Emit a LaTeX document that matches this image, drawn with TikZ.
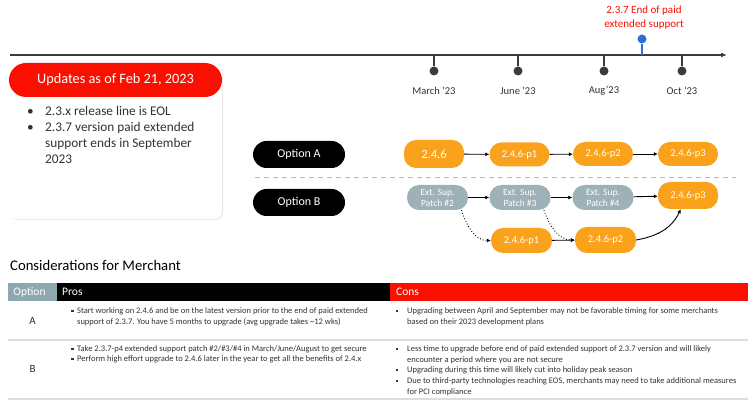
\documentclass[tikz,border=0pt]{standalone}
\usepackage{fontspec}
\setmainfont{Carlito}
\usetikzlibrary{arrows.meta,shadows}
\definecolor{adred}{HTML}{FA0F00}
\definecolor{orng}{HTML}{FAA21B}
\definecolor{gnode}{HTML}{9FB1B8}
\definecolor{ghdr}{HTML}{8EA8B2}
\definecolor{tline}{HTML}{3C3C3C}
\definecolor{blu}{HTML}{2B6FDB}
\definecolor{sepc}{HTML}{DDDDDD}
\definecolor{txt}{HTML}{333333}
\tikzset{
  tdot/.style={circle,fill=tline,inner sep=0,minimum size=9},
  bdot/.style={circle,fill=blu,inner sep=0,minimum size=9},
  tlabel/.style={text=txt,font=\fontsize{10.5}{12}\selectfont,inner sep=0},
  optbox/.style={fill=black,text=white,rounded corners=13.5,minimum width=92,minimum height=27,inner sep=0,font=\fontsize{12}{14}\selectfont},
  onode/.style={fill=orng,text=white,rounded corners=12,minimum width=60,minimum height=24,inner sep=0,font=\fontsize{10.5}{12}\selectfont},
  gbox/.style={fill=gnode,text=white,rounded corners=12,minimum width=61,minimum height=25,inner sep=0,align=center,font=\fontsize{9.5}{11}\selectfont},
  arr/.style={-{Latex[length=4,width=4]},line width=0.9,black},
  darr/.style={-{Latex[length=4,width=4]},line width=0.9,black,dotted},
  rtext/.style={text=txt,font=\fontsize{8.5}{10.5}\selectfont,inner sep=0,align=left,anchor=base west},
  sqb/.style={fill=txt,inner sep=0,minimum size=2.2},
  hdr/.style={text=white,font=\fontsize{11.5}{13}\selectfont,inner sep=0},
  cardb/.style={text=txt,font=\fontsize{13.3}{16}\selectfont,inner sep=0,align=left,anchor=base west}
}
\begin{document}
\begin{tikzpicture}[x=1pt,y=-1pt]
\useasboundingbox (0,0) rectangle (750,403);
\fill[white] (0,0) rectangle (750,403);

% timeline
\coordinate (tl0) at (10,55);
\coordinate (tl1) at (727,55);
\draw[tline,line width=1.5,-{Latex[length=6,width=5]}] (tl0) -- (tl1);
\foreach \x/\n/\t in {434/m/March '23,518/j/June '23,604/a/Aug'23,682/o/Oct '23}{
  \coordinate (\n0) at (\x,55);
  \node[tdot] (\n1) at (\x,71) {};
  \draw[tline,line width=1.5] (\n0) -- (\n1);
  \node[tlabel] (\n2) at (\x,91) {\t};
}
\coordinate (bp) at (642,55);
\node[bdot] (bd) at (642,39) {};
\draw[blu,line width=1.5] (bp) -- (bd);
\node[text=adred,align=center,font=\fontsize{11}{14}\selectfont,inner sep=0] (eol) at (644,18) {2.3.7 End of paid\\extended support};

% card
\node[fill=white,rounded corners=8,minimum width=213,minimum height=156,inner sep=0,
  drop shadow={opacity=0.18,shadow xshift=1pt,shadow yshift=-1pt}] (card) at (115.5,141) {};
\node[fill=adred,rounded corners=17,minimum width=213,minimum height=34,inner sep=0,text=white,
  font=\fontsize{14.3}{17}\selectfont] (upd) at (115.5,80) {Updates as of Feb 21, 2023};
\node[cardb] (b1d) at (27,116) {•};
\node[cardb] (b1) at (45,116) {2.3.x release line is EOL};
\node[cardb] (b2d) at (27,132) {•};
\node[cardb] (b2) at (45,164) {2.3.7 version paid extended\\support ends in September\\2023};

% options
\node[optbox] (oa) at (299,154.5) {Option A};
\node[optbox] (ob) at (299,202.5) {Option B};
\coordinate (ds0) at (255,178);
\coordinate (ds1) at (736,178);
\draw[gray!55,line width=1,dash pattern=on 5pt off 4pt] (ds0) -- (ds1);

% option A chain
\node[onode,minimum height=28,font=\fontsize{12.5}{14}\selectfont] (a1) at (434,154) {2.4.6};
\node[onode] (a2) at (519.5,154.5) {2.4.6-p1};
\node[onode] (a3) at (603,154) {2.4.6-p2};
\node[onode] (a4) at (688,154) {2.4.6-p3};
\draw[arr] (a1) -- (a2);
\draw[arr] (a2) -- (a3);
\draw[arr] (a3) -- (a4);

% option B chain
\node[gbox] (g1) at (437.5,197.5) {Ext. Sup.\\Patch \#2};
\node[gbox] (g2) at (520,197.5) {Ext. Sup.\\Patch \#3};
\node[gbox] (g3) at (603,197.5) {Ext. Sup.\\Patch \#4};
\node[onode,minimum height=27] (b4) at (688,195.5) {2.4.6-p3};
\node[onode,minimum width=61,minimum height=25] (c1) at (521.5,240.5) {2.4.6-p1};
\node[onode,minimum width=61,minimum height=26] (c2) at (605.5,240) {2.4.6-p2};
\draw[arr] (g1) -- (g2);
\draw[arr] (g2) -- (g3);
\draw[arr] (g3) -- (b4);
\draw[arr] (c1) -- (c2);
\draw[darr] (g1.-28) to[out=-70,in=180] (c1.west);
\draw[darr] (g2.-28) to[out=-70,in=180] (c2.west);
\draw[arr] (c2.east) to[out=10,in=-115] (b4.-118);

% table
\node[anchor=base west,inner sep=0,text=black,font=\fontsize{14.7}{18}\selectfont] (ttl) at (10,271) {Considerations for Merchant};
\fill[ghdr] (8,283) rectangle (57,301);
\fill[black] (57,283) rectangle (390,301);
\fill[adred] (390,283) rectangle (748,301);
\node[hdr] (hopt) at (29.5,292) {Option};
\node[hdr,anchor=west] (hpro) at (62,292) {Pros};
\node[hdr,anchor=west] (hcon) at (396,292) {Cons};
\coordinate (s1a) at (8,340); \coordinate (s1b) at (748,340);
\coordinate (s2a) at (8,399); \coordinate (s2b) at (748,399);
\draw[sepc,line width=2] (s1a) -- (s1b);
\draw[sepc,line width=2] (s2a) -- (s2b);
\node[text=txt,font=\fontsize{11}{13}\selectfont,inner sep=0] (ra) at (32.5,321) {A};
\node[text=txt,font=\fontsize{11}{13}\selectfont,inner sep=0] (rb) at (32.5,369) {B};

% row A
\node[sqb] (q1) at (72.5,311) {};
\node[rtext] (pa) at (77,324.5) {Start working on 2.4.6 and be on the latest version prior to the end of paid extended\\support of 2.3.7. You have 5 months to upgrade (avg upgrade takes \textasciitilde12 wks)};
\node[sqb] (q2) at (397,311) {};
\node[rtext] (ca) at (407,324.5) {Upgrading between April and September may not be favorable timing for some merchants\\based on their 2023 development plans};
% row B
\node[sqb] (q3) at (72.5,349) {};
\node[rtext] (pb1) at (77,352) {Take 2.3.7-p4 extended support patch \#2/\#3/\#4 in March/June/August to get secure};
\node[sqb] (q4) at (72.5,359) {};
\node[rtext] (pb2) at (77,362) {Perform high effort upgrade to 2.4.6 later in the year to get all the benefits of 2.4.x};
\node[sqb] (q5) at (397,349) {};
\node[rtext] (cb1) at (407,362.5) {Less time to upgrade before end of paid extended support of 2.3.7 version and will likely\\encounter a period where you are not secure};
\node[sqb] (q6) at (397,370) {};
\node[rtext] (cb2) at (407,373) {Upgrading during this time will likely cut into holiday peak season};
\node[sqb] (q7) at (397,381) {};
\node[rtext] (cb3) at (407,394.5) {Due to third-party technologies reaching EOS, merchants may need to take additional measures\\for PCI compliance};
\end{tikzpicture}
\end{document}
